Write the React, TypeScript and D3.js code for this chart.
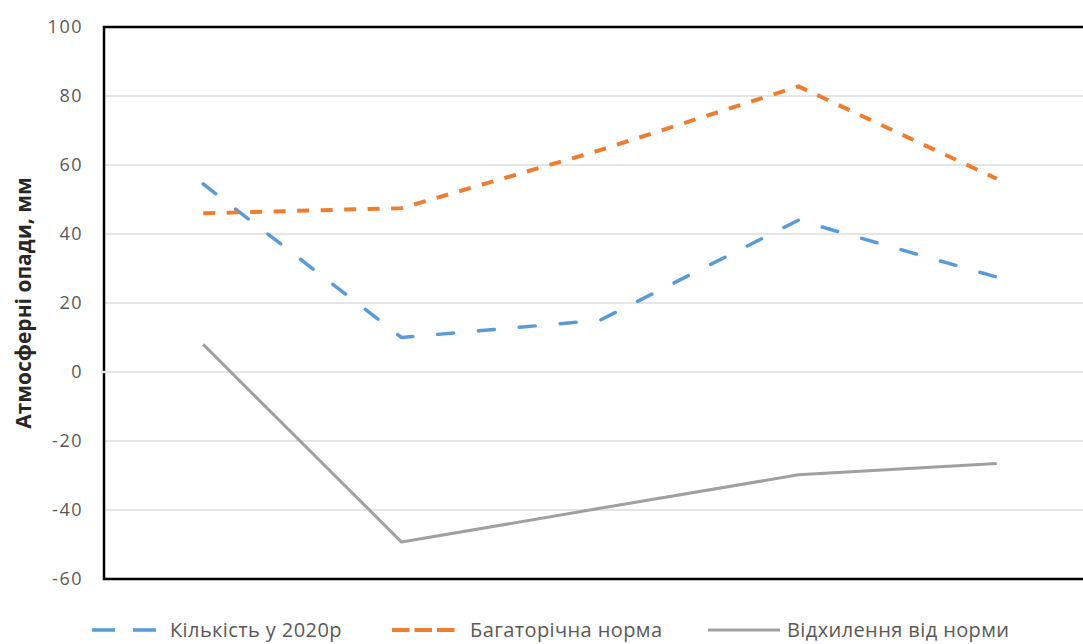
import React from "react";
import * as d3 from "d3";

// Precipitation per period, mm
const periods = ["1", "2", "3", "4", "5"];
const actual2020 = [54.5, 10, 15, 44, 27.5];
const longTermNorm = [46, 47.5, 64.3, 82.8, 56];
const deviation = [8, -49.3, -39.5, -29.8, -26.5];
const yTicks = [-60, -40, -20, 0, 20, 40, 60, 80, 100];

const seriesNames = ["Кількість у 2020р", "Багаторічна норма", "Відхилення від норми"];
const yTitle = "Атмосферні опади, мм";

const W = 1083;
const H = 644;
const plot = { left: 104, right: 1096, top: 27, bottom: 579 };
const FONT = "'Open Sans', 'Noto Sans', sans-serif";

const series = [
  { name: seriesNames[0], values: actual2020, color: "#5b9bd5", width: 3.5, dash: "16 25", cap: "round" as const },
  { name: seriesNames[1], values: longTermNorm, color: "#ed7d31", width: 4, dash: "12 11.5", cap: "butt" as const },
  { name: seriesNames[2], values: deviation, color: "#a0a0a0", width: 3, dash: undefined, cap: "butt" as const },
];

// legend symbol start, symbol length, label start, symbol dash pattern
const legendItems = [
  { sx: 92, sw: 64, tx: 170, dash: "23 18" },
  { sx: 392, sw: 63, tx: 470, dash: "17.5 5" },
  { sx: 708, sw: 72, tx: 787, dash: undefined },
];

export default function App() {
  const x = d3.scalePoint<string>().domain(periods).range([plot.left, plot.right]).padding(0.5);
  const y = d3.scaleLinear().domain([-60, 100]).range([plot.bottom, plot.top]);

  const lineFor = (vals: number[]) =>
    d3
      .line<number>()
      .x((_, i) => x(periods[i]) as number)
      .y((v) => y(v))(vals) as string;

  const legendY = 630;

  return (
    <svg
      width={W}
      height={H}
      style={{ position: "fixed", left: 0, top: 0, background: "#fff" }}
      fontFamily={FONT}
    >
      <rect x={0} y={0} width={W} height={H} fill="#fff" />
      {/* horizontal gridlines */}
      {yTicks
        .filter((t) => t !== -60 && t !== 100)
        .map((t) => (
          <line
            key={t}
            x1={plot.left}
            x2={plot.right}
            y1={y(t)}
            y2={y(t)}
            stroke="#dcdcdc"
            strokeWidth={1.5}
          />
        ))}
      {/* plot frame */}
      <path
        d={`M${plot.right},${plot.top}H${plot.left}V${plot.bottom}H${plot.right}`}
        fill="none"
        stroke="#000"
        strokeWidth={2.5}
      />
      <line x1={101} x2={108} y1={y(0)} y2={y(0)} stroke="#e4e4e4" strokeWidth={2.5} />
      {/* y tick labels */}
      {yTicks.map((t) => (
        <text
          key={t}
          x={83}
          y={y(t)}
          dy="0.35em"
          textAnchor="end"
          fontSize={18}
          letterSpacing={1.5}
          fill="#595959"
        >
          {t}
        </text>
      ))}
      {/* y axis title */}
      <text
        transform={`translate(31,303) rotate(-90)`}
        textAnchor="middle"
        fontSize={21}
        fontWeight="bold"
        fill="#262626"
      >
        {yTitle}
      </text>
      {/* series lines */}
      {series.map((s) => (
        <path
          key={s.name}
          d={lineFor(s.values)}
          fill="none"
          stroke={s.color}
          strokeWidth={s.width}
          strokeDasharray={s.dash}
          strokeLinecap={s.cap}
          strokeLinejoin="round"
        />
      ))}
      {/* legend */}
      {series.map((s, i) => {
        const it = legendItems[i];
        return (
          <g key={s.name}>
            <line
              x1={it.sx}
              x2={it.sx + it.sw}
              y1={legendY}
              y2={legendY}
              stroke={s.color}
              strokeWidth={s.width}
              strokeDasharray={it.dash}
            />
            <text
              x={it.tx}
              y={legendY}
              dy="0.35em"
              fontSize={20}
              letterSpacing={0.4}
              fill="#595959"
            >
              {s.name}
            </text>
          </g>
        );
      })}
    </svg>
  );
}
